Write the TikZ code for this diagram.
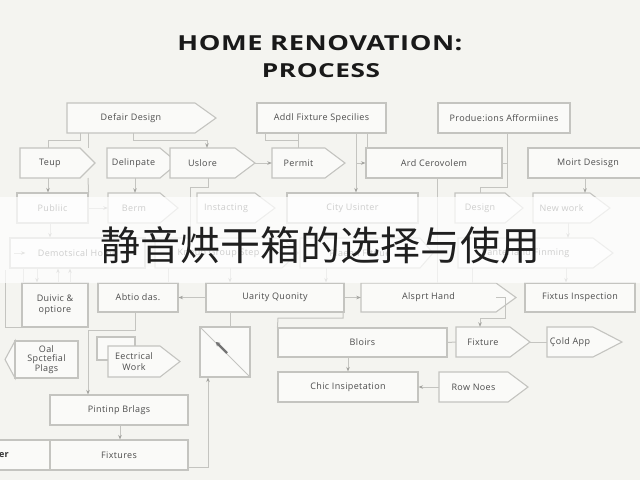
\documentclass[tikz,border=0pt]{standalone}
\usepackage{fontspec}
\setmainfont{Open Sans}[LetterSpace=4]
\newfontfamily\titlefont{Open Sans}[LetterSpace=2]
\newfontfamily\cjk{Noto Sans CJK SC}
\usetikzlibrary{arrows.meta,calc}
\definecolor{bg}{HTML}{F4F4F0}
\definecolor{boxfill}{HTML}{FAFAF8}
\definecolor{edgec}{HTML}{C4C4C0}
\definecolor{txt}{HTML}{4C4C4C}
\definecolor{arrc}{HTML}{A4A4A0}
\tikzset{
  rbox/.style={draw=edgec, fill=boxfill, line width=1.1pt, inner sep=0pt, text=txt,
    font=\fontsize{9}{10.5}\selectfont, align=center},
  pbox/.style={draw=none, inner sep=0pt, text=txt, font=\fontsize{9}{10.5}\selectfont, align=center},
  pline/.style={draw=edgec, fill=boxfill, line width=1.1pt, line join=miter},
  conn/.style={draw=edgec, line width=1pt},
  arrow/.style={conn, -{Stealth[length=4.5pt,width=3.5pt,color=arrc]}},
}
% rectangle box: name, x1, y1, x2, y2, text
\newcommand\rbx[6]{\node[rbox, minimum width={#4-#2}, minimum height={#5-#3}] (#1) at ({(#2+#4)/2},{(#3+#5)/2}) {#6};}
% pointed box: name, x1, y1, x2, y2, tip x, text
\newcommand\pbx[7]{%
  \path[pline] (#2,#3) -- (#4,#3) -- (#6,{(#3+#5)/2}) -- (#4,#5) -- (#2,#5) -- cycle;
  \node[pbox, minimum width={#4-#2}, minimum height={#5-#3}] (#1) at ({(#2+#4)/2},{(#3+#5)/2}) {#7};
  \coordinate (#1-tip) at (#6,{(#3+#5)/2});}
\begin{document}
\begin{tikzpicture}[x=1pt,y=-1pt]
\useasboundingbox (0,0) rectangle (640,480);
\fill[bg] (0,0) rectangle (640,480);

% title
\node[text=black!90, inner sep=0pt, anchor=base] (t1) at (320,50) {\resizebox{285pt}{15pt}{\titlefont\bfseries HOME RENOVATION:}};
\node[text=black!90, inner sep=0pt, anchor=base] (t2) at (321,77) {\resizebox{118pt}{14pt}{\titlefont\bfseries PROCESS}};

% row 1
\pbx{defair}{67}{103}{195}{133}{216}{Defair Design}
\rbx{addl}{257}{103}{386}{133}{Addl Fixture Specilies}
\rbx{produ}{438}{103}{570}{133}{Produe:ions Afformiines}

% row 2
\pbx{teup}{20}{148}{80}{178}{95}{Teup}
\pbx{delin}{107}{148}{160}{178}{178}{Delinpate}
\pbx{uslore}{170}{148}{235}{178}{255}{Uslore}
\pbx{permit}{272}{148}{325}{178}{345}{Permit}
\rbx{ard}{366}{148}{502}{178}{Ard Cerovolem}
\rbx{moirt}{528}{148}{648}{178}{Moirt Desisgn}

% row 3
\rbx{publ}{17}{193}{88}{223}{Publiic}
\pbx{berm}{108}{193}{160}{223}{178}{Berm}
\pbx{inst}{197}{193}{255}{223}{275}{Instacting}
\rbx{city}{287}{193}{418}{223}{City Usinter}
\pbx{design}{455}{193}{505}{223}{523}{Design}
\pbx{newwork}{533}{193}{590}{223}{610}{New work}

% row 4
\rbx{demo}{10}{238}{145}{268}{Demotsical Home}
\pbx{group}{155}{238}{282}{268}{298}{Kneup Group Step}
\pbx{plaeen}{300}{238}{420}{268}{433}{Plaeen Fituue}
\pbx{panter}{458}{238}{593}{268}{613}{Panterland Finming}

% row 5
\draw[conn] (5,270) -- (5,327) -- (22,327);
\draw[conn] (23,268) -- (23,283);
\rbx{duivic}{22}{283}{88}{327}{Duivic \&\\optiore}
\rbx{abtio}{98}{283}{178}{312}{Abtio das.}
\rbx{uarity}{206}{283}{344}{312}{Uarity Quonity}
\pbx{alsprt}{361}{283}{496}{312}{516}{Alsprt Hand}
\rbx{fixtus}{525}{283}{635}{312}{Fixtus Inspection}

% row 6
\path[pline] (15,341) -- (5,359.5) -- (15,378) -- cycle;
\rbx{oal}{15}{341}{78}{378}{Oal\\[-1pt]Spctefial\\[-1pt]Plags}
\path[pline] (97,337) rectangle (135,360);
\pbx{elec}{108}{346}{160}{377}{180}{Eectrical\\Work}
\rbx{diag}{200}{327}{250}{377}{}
\rbx{bloirs}{278}{328}{447}{357}{Bloirs}
\pbx{fixture}{456}{327}{510}{357}{530}{Fixture}
\pbx{cold}{547}{327}{593}{357}{622}{Çold App}

% row 7
\rbx{chic}{278}{372}{418}{402}{Chic Insipetation}
\pbx{rownoes}{439}{372}{508}{402}{528}{Row Noes}
\rbx{pintinp}{50}{395}{188}{425}{Pintinp Brlags}

% row 8
\rbx{leftbox}{-10}{440}{50}{470}{}
\node[text=black!80, font=\fontsize{9}{10}\selectfont\bfseries, anchor=east, inner sep=0pt] (lefttxt) at (9,455) {er};
\rbx{fixtures}{50}{440}{188}{470}{Fixtures}

% ---------- connectors ----------
\draw[conn] (80,0 |- defair.south) |- (48,140) -- (teup.north -| 48,0);
\draw[conn] (88,0 |- defair.south) -- (88,148);
\draw[conn] (88,178) -- (publ.north east);
\draw[arrow] (133,0 |- defair.south) |- (207,140) -- (uslore.north -| 207,0);
\draw[arrow] (uslore-tip) -- (permit.west);
\draw[conn] (265,0 |- addl.south) rectangle (298,140);
\draw[conn] (298,140) -- (permit.north -| 298,0);
\draw[arrow] (356,0 |- addl.south) -- (city.north -| 356,0);
\draw[conn] (367,0 |- addl.south) -- (ard.north -| 367,0);
\draw[arrow] (356,0 |- ard.west) -- (ard.west);
\draw[conn] (507,0 |- produ.south) -- (507,187) -| (design.north -| 480,0);
\draw[conn] (ard.east) -- (507,0 |- ard.east);
\draw[arrow] (585,0 |- moirt.south) -- (newwork.north -| 585,0);
\draw[arrow] (48,0 |- teup.south) -- (publ.north -| 48,0);
\draw[arrow] (135,0 |- delin.south) -- (berm.north -| 135,0);
\draw[conn] (208,0 |- uslore.south) |- (190,187) -- (group.north -| 190,0);
\draw[arrow] (publ.east) -- (berm.west);
\draw[arrow] (50,0 |- publ.south) -- (demo.north -| 50,0);
\draw[conn] (437,0 |- ard.south) -- (alsprt.north -| 437,0);
\draw[arrow] (568,0 |- newwork.south) -- (panter.north -| 568,0);
\draw[arrow] (566,0 |- panter.south) -- (fixtus.north -| 566,0);
\draw[conn] (168,0 |- group.south) -- (abtio.north -| 168,0);
\draw[arrow] (230,0 |- group.south) -- (uarity.north -| 230,0);
\draw[arrow] (326,0 |- plaeen.south) -- (uarity.north -| 326,0);
\draw[conn] (472,0 |- panter.south) -- (alsprt.north -| 472,0);
\draw[arrow] (37,0 |- demo.south) -- (duivic.north -| 37,0);
\draw[arrow] (58,0 |- duivic.north) -- (demo.south -| 58,0);
\draw[arrow] (70,0 |- duivic.north) -- (demo.south -| 70,0);
\draw[arrow] ([xshift=5pt]demo.west) -- ++(11,0);
\draw[arrow] (uarity.west) -- (abtio.east);
\draw[arrow] (uarity.east) -- (alsprt.west);
\draw[arrow] (135,0 |- abtio.south) |- (88,330) -- (pintinp.north -| 88,0);
\draw[conn] (230,0 |- uarity.south) -- (diag.north -| 230,0);
\draw[conn] (343,0 |- uarity.south) |- (278,318) -- (bloirs.north west);
\draw[arrow] (348,0 |- bloirs.south) -- (chic.north -| 348,0);
\draw[conn] (bloirs.east) -- (fixture.west);
\draw[conn] (fixture-tip) -- (cold.west);
\draw[arrow] (alsprt.east) -- (505,0 |- alsprt.east) |- (480,318) -- (fixture.north -| 480,0);
\draw[arrow] (rownoes.west) -- (chic.east);
\draw[arrow] (120,0 |- pintinp.south) -- (fixtures.north -| 120,0);
\draw[arrow] (fixtures.east |- 0,467) -- (208,467) -- (diag.south -| 208,0);
\draw[conn] (diag.north west) -- (diag.south east);
\draw[line width=2.2pt, draw=black!55, -{Stealth[length=4pt,width=5pt]}] (227,353) -- (216,342);

% ---------- overlay band and caption ----------
\fill[white, opacity=0.72] (0,197) rectangle (640,283);
\node[text=black!88, inner sep=0pt, font=\cjk\fontsize{40}{44}\selectfont] (cap) at (320,245) {静音烘干箱的选择与使用};
\end{tikzpicture}
\end{document}
